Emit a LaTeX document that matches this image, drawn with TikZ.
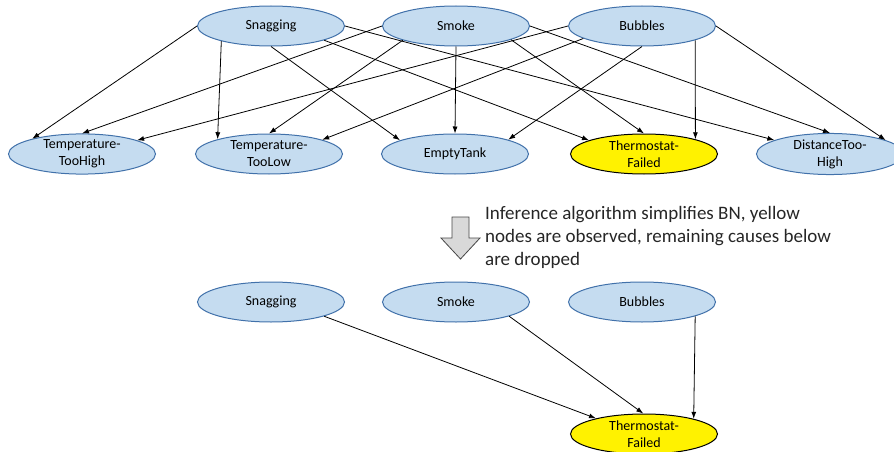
\documentclass[tikz,border=0pt]{standalone}
\usepackage{fontspec}
\setmainfont{Carlito}
\usetikzlibrary{shapes.geometric,arrows.meta}
\definecolor{nodeblue}{RGB}{197,220,240}
\definecolor{nodeline}{RGB}{65,113,170}

\begin{document}
\begin{tikzpicture}[x=1pt,y=-1pt,
		bnnode/.style={ellipse, draw=nodeline, fill=nodeblue, line width=1pt, minimum width=147pt, minimum height=40pt, inner sep=0pt, align=center, font=\fontsize{14}{17}\selectfont},
		obsnode/.style={bnnode, draw=black, fill=yellow},
		edge/.style={-{Latex[length=7pt,width=5pt]}, line width=0.8pt}]
	\useasboundingbox (0,0) rectangle (894,452);
	% causes
	\node[bnnode] (snag) at (271,26) {Snagging};
	\node[bnnode] (smoke) at (456,26) {Smoke};
	\node[bnnode] (bub) at (642,26) {Bubbles};
	% effects
	\node[bnnode] (tth) at (82,154) {Temperature-\\TooHigh};
	\node[bnnode] (ttl) at (269,154) {Temperature-\\TooLow};
	\node[bnnode] (et) at (455,154) {EmptyTank};
	\node[obsnode] (tf) at (644,154) {Thermostat-\\Failed};
	\node[bnnode] (dth) at (830,154) {DistanceToo-\\High};
	% links of the full network
	\foreach \a/\b in {snag.180/tth.163, snag.197/ttl.164, snag.270/et.166, snag.345/tf.166, snag.0/dth.166,
		smoke.180/tth.90, smoke.195/ttl.90, smoke.270/et.90, smoke.346/tf.90, smoke.0/dth.90,
		bub.180/tth.14, bub.192/ttl.15, bub.270/et.15, bub.345/tf.16, bub.0/dth.14}{
		\draw[edge] (\a) -- (\b);
	}
	% simplification step
	\draw[fill=gray!30, draw=gray!55!black, line width=0.8pt] (452,217) -- (469,217) -- (469,238) -- (480,238) -- (460.5,259) -- (441,238) -- (452,238) -- cycle;
	\node[anchor=north west, inner sep=0pt, align=left, text=black!85, font=\fontsize{19}{23}\selectfont] (note) at (485,206) {Inference algorithm simplifies BN, yellow\\nodes are observed, remaining causes below\\are dropped};
	% simplified network
	\node[bnnode] (snag2) at (271,302) {Snagging};
	\node[bnnode] (smoke2) at (456,302) {Smoke};
	\node[bnnode] (bub2) at (642,302) {Bubbles};
	\node[obsnode] (tf2) at (644,434) {Thermostat-\\Failed};
	\draw[edge] (snag2.345) -- (tf2.162);
	\draw[edge] (smoke2.345) -- (tf2.92);
	\draw[edge] (bub2.345) -- (tf2.17);
\end{tikzpicture}
\end{document}
